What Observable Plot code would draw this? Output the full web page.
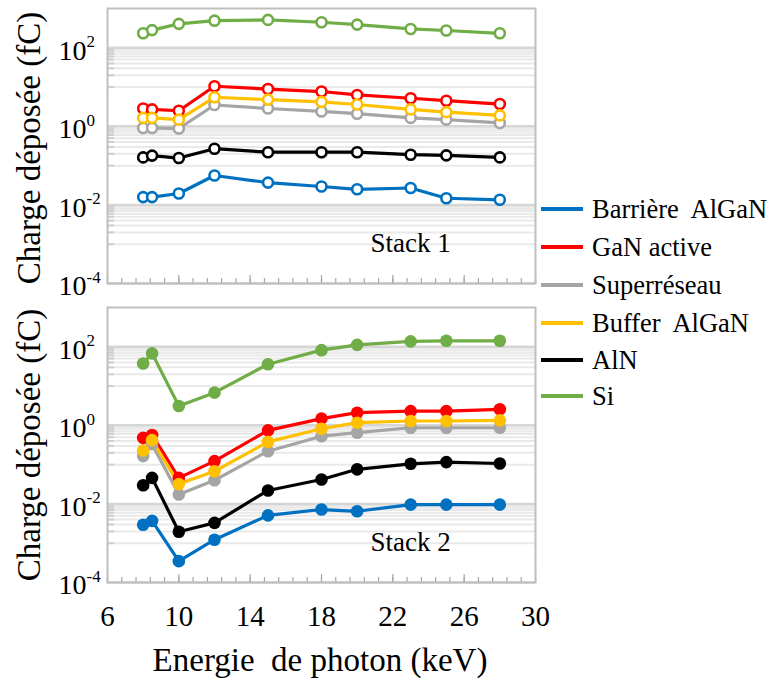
<!DOCTYPE html>
<html>
<head>
<meta charset="utf-8">
<script src="https://cdn.jsdelivr.net/npm/d3@7"></script>
<script src="https://cdn.jsdelivr.net/npm/@observablehq/plot@0.6"></script>
<style>
  html, body { margin: 0; padding: 0; background: #fff; }
  #wrap { position: relative; width: 769px; height: 680px; overflow: hidden; font-family: "Liberation Serif", "Times New Roman", serif; color: #000; }
  .panel { position: absolute; left: 0; }
  .ytitle { position: absolute; font-size: 33px; white-space: nowrap; transform: translate(-50%, -50%) rotate(-90deg); }
  #xtitle { position: absolute; font-size: 33px; white-space: pre; transform: translate(-50%, -50%); }
  .leg { position: absolute; left: 541px; height: 36px; display: flex; align-items: center; font-size: 26.5px; white-space: nowrap; }
  .sw { width: 42px; height: 4px; margin-right: 9px; flex: none; }
</style>
</head>
<body>
<div id="wrap"></div>
<script>
// ---- data ----
const energies = [8, 8.5, 10, 12, 15, 18, 20, 23, 25, 28];
const seriesNames = ["Barrière  AlGaN", "GaN active", "Superréseau", "Buffer  AlGaN", "AlN", "Si"];
const seriesColors = ["#0070C0", "#FF0000", "#A5A5A5", "#FFC000", "#000000", "#70AD47"];

// Stack 1 (fC)
const s1Barriere = [0.0158, 0.0158, 0.0195, 0.056, 0.037, 0.0295, 0.025, 0.027, 0.0148, 0.0135];
const s1GaN      = [2.85, 2.7, 2.5, 10.5, 8.9, 7.7, 6.3, 5.2, 4.5, 3.7];
const s1Super    = [0.91, 0.91, 0.88, 3.5, 2.85, 2.4, 2.1, 1.64, 1.48, 1.22];
const s1Buffer   = [1.64, 1.64, 1.48, 5.5, 4.8, 4.2, 3.6, 2.7, 2.3, 1.9];
const s1AlN      = [0.162, 0.18, 0.156, 0.27, 0.22, 0.22, 0.22, 0.19, 0.183, 0.162];
const s1Si       = [234, 282, 407, 490, 513, 447, 389, 302, 275, 234];

// Stack 2 (fC)
const s2Barriere = [0.00295, 0.0037, 0.00035, 0.00123, 0.0051, 0.0072, 0.0065, 0.0096, 0.0096, 0.0096];
const s2GaN      = [0.48, 0.57, 0.046, 0.123, 0.745, 1.48, 2.1, 2.3, 2.3, 2.56];
const s2Super    = [0.165, 0.33, 0.0174, 0.04, 0.22, 0.53, 0.65, 0.87, 0.87, 0.87];
const s2Buffer   = [0.23, 0.42, 0.032, 0.068, 0.38, 0.82, 1.17, 1.29, 1.29, 1.34];
const s2AlN      = [0.030, 0.046, 0.00195, 0.0033, 0.022, 0.042, 0.076, 0.105, 0.116, 0.107];
const s2Si       = [37.5, 68, 3.1, 6.8, 36, 82, 112, 137, 142, 142];

// axes
const xMajorTicks = [6, 10, 14, 18, 22, 26, 30];
const xTickLabels = ["6", "10", "14", "18", "22", "26", "30"];
const yMajorTicks = [1e-4, 1e-2, 1, 100];
const yTickBase = "10";
const yTickExponents = ["-4", "-2", "0", "2"];
const yMinorExponents = [-3, -1, 1];   // minor gridlines m·10^k, m = 1..9
const panelLabels = ["Stack 1", "Stack 2"];
const yTitle = "Charge déposée (fC)";
const xTitle = "Energie  de photon (keV)";

// ---- build ----
const stack1 = [s1Barriere, s1GaN, s1Super, s1Buffer, s1AlN, s1Si];
const stack2 = [s2Barriere, s2GaN, s2Super, s2Buffer, s2AlN, s2Si];
const toRows = (stack) => stack.flatMap((vals, si) => vals.map((v, i) => ({ e: energies[i], v, s: seriesNames[si] })));
const rows1 = toRows(stack1);
const rows2 = toRows(stack2);
const yTicks = yMajorTicks.map((v, i) => ({ v, base: yTickBase, exp: yTickExponents[i] }));

const xMinor = d3.range(0, 31).map(i => 6 + i * 0.8).filter(d => d <= 30.001);
const yMinor = yMinorExponents.flatMap(k => d3.range(1, 10).map(m => m * Math.pow(10, k)));

function panel(rows, filled, label, bottom) {
  return Plot.plot({
    width: 545,
    height: bottom ? 340 : 300,
    marginLeft: 107,
    marginRight: 10,
    marginTop: 8,
    marginBottom: bottom ? 57 : 17,
    x: { domain: [6, 30], label: null },
    y: { type: "log", domain: [1e-4, 1e3], label: null },
    color: { domain: seriesNames, range: seriesColors },
    style: { fontFamily: "'Liberation Serif', 'Times New Roman', serif", fontSize: "27px", color: "#000", background: "transparent", overflow: "visible" },
    marks: [
      Plot.ruleY(yMinor, { stroke: "#e9e9e9", strokeWidth: 2 }),
      Plot.ruleY(yMajorTicks, { stroke: "#d6d6d6", strokeWidth: 2.5 }),
      Plot.axisY(yMinor, { tickSize: -7, tickFormat: () => "", stroke: "#cfcfcf", strokeWidth: 2 }),
      Plot.text(yTicks, { y: "v", text: "base", frameAnchor: "left", textAnchor: "end", dx: -21, dy: 3, fontSize: 28 }),
      Plot.text(yTicks, { y: "v", text: "exp", frameAnchor: "left", textAnchor: "start", dx: -21, dy: -6, fontSize: 17 }),
      Plot.axisX(xMinor, { tickSize: -5, tickFormat: () => "", stroke: "#a6a6a6", strokeWidth: 1.2 }),
      Plot.axisX(xMajorTicks, { tickSize: -8, stroke: "#a6a6a6", strokeWidth: 1.2, tickPadding: 31, fontSize: 29,
        tickFormat: bottom ? (d => xTickLabels[xMajorTicks.indexOf(d)]) : (() => "") }),
      Plot.frame({ stroke: "#bfbfbf", strokeWidth: 2 }),
      Plot.line(rows, { x: "e", y: "v", z: "s", stroke: "s", strokeWidth: 3.2 }),
      filled
        ? Plot.dot(rows, { x: "e", y: "v", fill: "s", r: 6.3 })
        : Plot.dot(rows, { x: "e", y: "v", stroke: "s", fill: "white", r: 5, strokeWidth: 2.6 }),
      Plot.text([label], { x: 23, y: 1.05e-3, text: d => d, fontSize: 27 })
    ]
  });
}

const wrap = document.getElementById("wrap");
const p1 = panel(rows1, false, panelLabels[0], false);
p1.classList.add("panel"); p1.style.top = "0px";
wrap.appendChild(p1);
const p2 = panel(rows2, true, panelLabels[1], true);
p2.classList.add("panel"); p2.style.top = "299px";
wrap.appendChild(p2);

// y titles
[[29, 148], [29, 445]].forEach(([x, y]) => {
  const d = document.createElement("div");
  d.className = "ytitle"; d.textContent = yTitle;
  d.style.left = x + "px"; d.style.top = y + "px";
  wrap.appendChild(d);
});
const xt = document.createElement("div");
xt.id = "xtitle"; xt.textContent = xTitle;
xt.style.left = "320px"; xt.style.top = "660px";
wrap.appendChild(xt);

// legend
const legendY = [209, 247, 285, 323, 360, 396];
seriesNames.forEach((n, i) => {
  const row = document.createElement("div");
  row.className = "leg";
  row.style.top = (legendY[i] - 18) + "px";
  const sw = document.createElement("div");
  sw.className = "sw"; sw.style.background = seriesColors[i];
  const t = document.createElement("span");
  t.textContent = n; t.style.whiteSpace = "pre";
  row.appendChild(sw); row.appendChild(t);
  wrap.appendChild(row);
});
</script>
</body>
</html>
